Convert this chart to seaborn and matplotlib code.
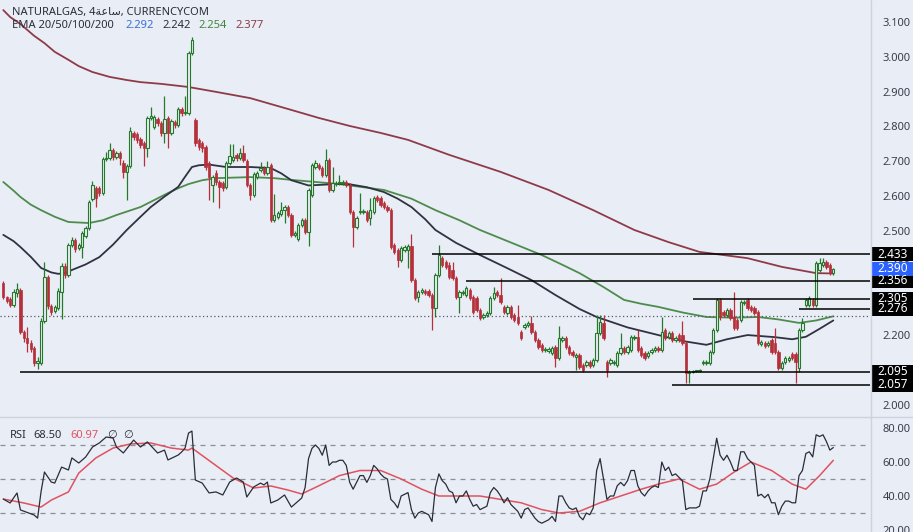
import numpy as np
import pandas as pd
import seaborn as sns
import matplotlib
matplotlib.use("Agg")
import matplotlib.pyplot as plt
import matplotlib.transforms as mtransforms
from matplotlib.patches import Rectangle
from matplotlib.lines import Line2D

BG = "#e9edf6"
UP = "#25792a"
DOWN = "#b5303a"

# 4h candles, NATURALGAS
opens = [
    2.350, 2.310, 2.304, 2.286, 2.321, 2.330, 2.209, 2.192, 2.177, 2.163,
    2.120, 2.120, 2.241, 2.367, 2.284, 2.269, 2.278, 2.324, 2.398, 2.373,
    2.459, 2.473, 2.450, 2.453, 2.485, 2.508, 2.591, 2.623, 2.623, 2.608,
    2.706, 2.709, 2.732, 2.712, 2.723, 2.695, 2.669, 2.686, 2.781, 2.778,
    2.764, 2.752, 2.738, 2.824, 2.798, 2.821, 2.809, 2.781, 2.824, 2.781,
    2.812, 2.804, 2.849, 2.838, 2.838, 3.011, 2.818, 2.761, 2.752, 2.741,
    2.695, 2.631, 2.666, 2.640, 2.637, 2.626, 2.695, 2.703, 2.718, 2.709,
    2.723, 2.700, 2.631, 2.603, 2.654, 2.674, 2.680, 2.666, 2.689, 2.531,
    2.539, 2.548, 2.559, 2.567, 2.545, 2.488, 2.476, 2.516, 2.531, 2.496,
    2.603, 2.683, 2.689, 2.680, 2.660, 2.703, 2.617, 2.634, 2.637, 2.637,
    2.640, 2.631, 2.553, 2.511, 2.553, 2.553, 2.553, 2.536, 2.553, 2.597,
    2.594, 2.579, 2.567, 2.559, 2.459, 2.444, 2.416, 2.444, 2.444, 2.456,
    2.358, 2.310, 2.324, 2.327, 2.327, 2.315, 2.278, 2.373, 2.421, 2.410,
    2.401, 2.387, 2.364, 2.310, 2.321, 2.315, 2.330, 2.310, 2.307, 2.272,
    2.252, 2.258, 2.263, 2.307, 2.324, 2.315, 2.281, 2.263, 2.281, 2.258,
    2.252, 2.209, 2.223, 2.229, 2.235, 2.209, 2.186, 2.172, 2.157, 2.154,
    2.149, 2.166, 2.134, 2.186, 2.192, 2.166, 2.151, 2.137, 2.143, 2.114,
    2.114, 2.123, 2.114, 2.128, 2.206, 2.235, 2.123, 2.120, 2.120, 2.114,
    2.149, 2.163, 2.151, 2.157, 2.192, 2.194, 2.163, 2.149, 2.140, 2.151,
    2.157, 2.163, 2.157, 2.215, 2.194, 2.206, 2.186, 2.200, 2.200, 2.177,
    2.091, 2.094, 2.097, 2.097, 2.120, 2.120, 2.120, 2.151, 2.215, 2.301,
    2.266, 2.258, 2.272, 2.252, 2.243, 2.243, 2.292, 2.301, 2.281, 2.278,
    2.266, 2.174, 2.177, 2.172, 2.186, 2.177, 2.151, 2.105, 2.123, 2.128,
    2.146, 2.146, 2.105, 2.215, 2.286, 2.286, 2.301, 2.286, 2.387, 2.401,
    2.410, 2.401, 2.378,
]
highs = [
    2.355, 2.313, 2.310, 2.333, 2.350, 2.336, 2.215, 2.223, 2.186, 2.169,
    2.137, 2.249, 2.410, 2.373, 2.289, 2.286, 2.336, 2.407, 2.407, 2.465,
    2.482, 2.479, 2.465, 2.499, 2.513, 2.588, 2.643, 2.629, 2.629, 2.712,
    2.726, 2.752, 2.738, 2.729, 2.729, 2.703, 2.692, 2.798, 2.787, 2.784,
    2.769, 2.758, 2.830, 2.855, 2.832, 2.827, 2.815, 2.887, 2.830, 2.821,
    2.818, 2.855, 2.855, 2.887, 3.016, 3.057, 2.824, 2.766, 2.758, 2.746,
    2.700, 2.660, 2.674, 2.646, 2.643, 2.700, 2.749, 2.749, 2.723, 2.738,
    2.746, 2.706, 2.637, 2.669, 2.672, 2.697, 2.686, 2.700, 2.695, 2.606,
    2.556, 2.582, 2.573, 2.573, 2.551, 2.499, 2.522, 2.536, 2.536, 2.623,
    2.695, 2.703, 2.695, 2.686, 2.735, 2.709, 2.683, 2.643, 2.660, 2.646,
    2.646, 2.637, 2.559, 2.542, 2.608, 2.562, 2.559, 2.594, 2.600, 2.603,
    2.600, 2.585, 2.573, 2.564, 2.465, 2.450, 2.456, 2.459, 2.462, 2.491,
    2.364, 2.330, 2.336, 2.333, 2.333, 2.321, 2.378, 2.459, 2.427, 2.416,
    2.410, 2.410, 2.370, 2.330, 2.330, 2.341, 2.336, 2.315, 2.313, 2.278,
    2.263, 2.269, 2.313, 2.338, 2.330, 2.364, 2.286, 2.286, 2.286, 2.263,
    2.286, 2.215, 2.235, 2.241, 2.255, 2.215, 2.192, 2.177, 2.166, 2.166,
    2.169, 2.172, 2.226, 2.197, 2.197, 2.172, 2.157, 2.149, 2.149, 2.120,
    2.128, 2.128, 2.134, 2.258, 2.258, 2.258, 2.128, 2.134, 2.128, 2.154,
    2.206, 2.169, 2.172, 2.200, 2.200, 2.215, 2.169, 2.154, 2.154, 2.163,
    2.169, 2.169, 2.252, 2.220, 2.212, 2.212, 2.197, 2.206, 2.241, 2.183,
    2.100, 2.100, 2.100, 2.103, 2.128, 2.128, 2.157, 2.220, 2.307, 2.307,
    2.272, 2.278, 2.278, 2.324, 2.249, 2.301, 2.301, 2.307, 2.286, 2.284,
    2.272, 2.186, 2.183, 2.183, 2.192, 2.220, 2.157, 2.126, 2.140, 2.140,
    2.151, 2.151, 2.220, 2.249, 2.307, 2.313, 2.307, 2.413, 2.421, 2.421,
    2.416, 2.407, 2.393,
]
lows = [
    2.304, 2.292, 2.281, 2.281, 2.310, 2.203, 2.180, 2.151, 2.151, 2.111,
    2.103, 2.114, 2.235, 2.275, 2.258, 2.263, 2.272, 2.246, 2.364, 2.367,
    2.453, 2.439, 2.444, 2.421, 2.479, 2.502, 2.585, 2.567, 2.600, 2.603,
    2.700, 2.703, 2.703, 2.706, 2.689, 2.651, 2.588, 2.680, 2.761, 2.752,
    2.738, 2.686, 2.712, 2.818, 2.792, 2.801, 2.772, 2.752, 2.738, 2.775,
    2.795, 2.798, 2.830, 2.832, 2.832, 3.005, 2.744, 2.732, 2.726, 2.674,
    2.588, 2.582, 2.631, 2.564, 2.614, 2.620, 2.689, 2.697, 2.700, 2.703,
    2.697, 2.626, 2.588, 2.597, 2.649, 2.669, 2.660, 2.660, 2.525, 2.525,
    2.533, 2.542, 2.522, 2.539, 2.482, 2.482, 2.470, 2.511, 2.491, 2.456,
    2.597, 2.677, 2.674, 2.654, 2.654, 2.611, 2.611, 2.629, 2.631, 2.631,
    2.626, 2.548, 2.453, 2.505, 2.548, 2.548, 2.525, 2.516, 2.548, 2.582,
    2.567, 2.562, 2.553, 2.447, 2.433, 2.395, 2.410, 2.439, 2.393, 2.352,
    2.301, 2.295, 2.318, 2.315, 2.310, 2.215, 2.252, 2.367, 2.395, 2.390,
    2.361, 2.358, 2.304, 2.263, 2.315, 2.310, 2.301, 2.260, 2.266, 2.243,
    2.246, 2.252, 2.258, 2.301, 2.310, 2.289, 2.260, 2.258, 2.246, 2.238,
    2.229, 2.186, 2.218, 2.223, 2.203, 2.180, 2.160, 2.151, 2.151, 2.149,
    2.143, 2.108, 2.128, 2.180, 2.160, 2.143, 2.137, 2.100, 2.103, 2.094,
    2.108, 2.105, 2.108, 2.123, 2.200, 2.186, 2.080, 2.114, 2.114, 2.108,
    2.143, 2.146, 2.146, 2.151, 2.186, 2.151, 2.137, 2.128, 2.134, 2.146,
    2.151, 2.151, 2.151, 2.186, 2.189, 2.180, 2.180, 2.180, 2.172, 2.063,
    2.063, 2.091, 2.094, 2.094, 2.114, 2.114, 2.114, 2.146, 2.209, 2.243,
    2.252, 2.252, 2.243, 2.215, 2.215, 2.238, 2.286, 2.272, 2.266, 2.258,
    2.172, 2.169, 2.163, 2.166, 2.146, 2.146, 2.100, 2.100, 2.117, 2.123,
    2.128, 2.063, 2.094, 2.209, 2.281, 2.281, 2.281, 2.281, 2.381, 2.395,
    2.390, 2.373, 2.373,
]
closes = [
    2.310, 2.298, 2.286, 2.324, 2.333, 2.209, 2.192, 2.177, 2.160, 2.120,
    2.126, 2.241, 2.367, 2.284, 2.266, 2.281, 2.327, 2.398, 2.373, 2.459,
    2.473, 2.447, 2.459, 2.493, 2.508, 2.582, 2.631, 2.594, 2.608, 2.706,
    2.709, 2.732, 2.712, 2.723, 2.709, 2.669, 2.686, 2.787, 2.769, 2.761,
    2.746, 2.738, 2.824, 2.830, 2.827, 2.809, 2.781, 2.821, 2.781, 2.815,
    2.804, 2.849, 2.838, 2.841, 3.011, 3.048, 2.752, 2.741, 2.738, 2.683,
    2.654, 2.654, 2.640, 2.626, 2.623, 2.695, 2.715, 2.712, 2.709, 2.723,
    2.703, 2.631, 2.603, 2.663, 2.666, 2.680, 2.666, 2.683, 2.531, 2.545,
    2.551, 2.559, 2.567, 2.545, 2.488, 2.493, 2.516, 2.531, 2.496, 2.617,
    2.689, 2.695, 2.680, 2.660, 2.703, 2.617, 2.637, 2.637, 2.640, 2.640,
    2.631, 2.553, 2.511, 2.536, 2.556, 2.556, 2.531, 2.559, 2.594, 2.588,
    2.573, 2.567, 2.559, 2.453, 2.439, 2.416, 2.450, 2.453, 2.456, 2.358,
    2.307, 2.324, 2.330, 2.321, 2.315, 2.278, 2.373, 2.430, 2.401, 2.395,
    2.367, 2.364, 2.310, 2.324, 2.324, 2.336, 2.307, 2.266, 2.272, 2.249,
    2.258, 2.263, 2.307, 2.321, 2.315, 2.295, 2.266, 2.281, 2.252, 2.243,
    2.235, 2.192, 2.229, 2.235, 2.209, 2.186, 2.166, 2.157, 2.160, 2.160,
    2.163, 2.134, 2.192, 2.192, 2.166, 2.149, 2.143, 2.143, 2.108, 2.100,
    2.123, 2.111, 2.128, 2.206, 2.238, 2.192, 2.100, 2.128, 2.123, 2.149,
    2.163, 2.151, 2.166, 2.194, 2.194, 2.157, 2.143, 2.134, 2.149, 2.157,
    2.163, 2.157, 2.209, 2.192, 2.206, 2.186, 2.192, 2.186, 2.177, 2.091,
    2.094, 2.097, 2.097, 2.100, 2.123, 2.123, 2.151, 2.215, 2.301, 2.252,
    2.258, 2.272, 2.249, 2.220, 2.220, 2.295, 2.295, 2.278, 2.272, 2.263,
    2.177, 2.180, 2.169, 2.177, 2.151, 2.151, 2.105, 2.120, 2.134, 2.134,
    2.134, 2.123, 2.215, 2.235, 2.301, 2.307, 2.286, 2.407, 2.407, 2.410,
    2.395, 2.378, 2.390,
]

# EMA readings (candle index, value)
ema50_idx = [0, 3, 5, 8, 11, 14, 16, 18, 20, 24, 28, 32, 36, 40, 43, 47, 51, 53, 55,
             57, 60, 65, 72, 78, 81, 84, 89, 95, 100, 106, 111, 115, 119, 123, 126,
             132, 139, 147, 154, 161, 168, 173, 182, 191, 198, 205, 211, 217, 225,
             230, 234, 238, 242]
ema50_val = [2.488, 2.470, 2.453, 2.425, 2.393, 2.380, 2.376, 2.378, 2.387, 2.403,
             2.424, 2.460, 2.502, 2.540, 2.568, 2.598, 2.626, 2.655, 2.683, 2.688,
             2.690, 2.683, 2.683, 2.680, 2.665, 2.645, 2.630, 2.633, 2.635, 2.625,
             2.611, 2.592, 2.568, 2.533, 2.502, 2.465, 2.430, 2.392, 2.358, 2.315,
             2.275, 2.252, 2.222, 2.200, 2.183, 2.172, 2.188, 2.200, 2.194, 2.188,
             2.195, 2.218, 2.242]
ema100_idx = [0, 3, 5, 8, 11, 15, 19, 25, 29, 33, 40, 44, 48, 51, 54, 58, 62, 72,
              79, 84, 98, 111, 119, 126, 133, 139, 148, 157, 163, 168, 175, 181, 186,
              191, 198, 205, 213, 220, 226, 232, 237, 242]
ema100_val = [2.640, 2.615, 2.597, 2.575, 2.559, 2.540, 2.525, 2.522, 2.530, 2.545,
              2.568, 2.588, 2.608, 2.622, 2.634, 2.645, 2.651, 2.654, 2.651, 2.646,
              2.634, 2.617, 2.592, 2.559, 2.530, 2.502, 2.466, 2.430, 2.402, 2.378,
              2.338, 2.301, 2.290, 2.281, 2.265, 2.252, 2.250, 2.252, 2.245, 2.235,
              2.242, 2.254]
ema200_idx = [0, 2, 5, 7, 9, 12, 15, 19, 22, 26, 31, 36, 40, 46, 54, 62, 72, 84, 92,
              101, 110, 118, 130, 145, 159, 172, 184, 194, 203, 210, 217, 227, 237, 242]
ema200_val = [3.134, 3.114, 3.094, 3.077, 3.060, 3.039, 3.014, 2.991, 2.973, 2.956,
              2.942, 2.933, 2.927, 2.922, 2.913, 2.899, 2.881, 2.847, 2.824, 2.801,
              2.781, 2.761, 2.718, 2.669, 2.617, 2.559, 2.502, 2.467, 2.439, 2.430,
              2.421, 2.396, 2.378, 2.377]

# RSI readings (candle index, value)
rsi_idx = [0, 2, 4, 5, 9, 10, 11, 12, 14, 15, 17, 19, 20, 22, 24, 26, 28, 30, 32, 33,
           35, 38, 40, 42, 45, 47, 48, 51, 52, 53, 54, 55, 56, 58, 60, 62, 64, 66, 68,
           70, 71, 73, 75, 76, 77, 78, 80, 82, 84, 87] + list(range(88, 243))
rsi_val = [38.2, 35.9, 41.8, 31.8, 28.8, 27.0, 42.4, 54.1, 48.2, 47.6, 57.0, 55.3,
           62.4, 59.4, 62.9, 68.8, 71.2, 74.7, 74.1, 68.8, 65.3, 72.9, 68.8, 71.8,
           65.3, 67.0, 61.2, 64.1, 65.9, 68.2, 77.0, 78.2, 49.4, 47.6, 41.8, 42.4,
           40.6, 48.2, 50.6, 48.2, 39.4, 45.3, 47.6, 46.5, 48.2, 35.9, 37.6, 40.6,
           33.5, 38.8,
           45, 62, 68, 70, 68, 64, 70, 58, 60, 60, 61, 61, 58, 48, 44, 48, 52, 52, 48, 52,
           58, 56, 53, 51, 50, 38, 36, 33, 40, 41, 42, 32, 27, 30, 31, 30, 29, 25, 45, 53,
           49, 47, 43, 42, 36, 40, 40, 43, 38, 34, 35, 32, 33, 34, 42, 45, 43, 40, 36, 39,
           35, 33, 31, 27, 32, 33, 30, 27, 25, 24, 25, 26, 28, 25, 40, 40, 36, 33, 32, 33,
           28, 26, 30, 29, 33, 55, 62, 50, 38, 40, 40, 46, 48, 46, 49, 55, 55, 46, 42, 40,
           43, 45, 46, 45, 60, 55, 57, 52, 53, 51, 49, 32, 33, 33, 33, 34, 43, 43, 50, 62,
           74, 64, 61, 64, 60, 55, 55, 66, 66, 62, 60, 58, 40, 41, 39, 41, 36, 36, 29, 34,
           37, 37, 36, 36, 52, 55, 65, 66, 63, 76, 75, 76, 72, 67, 68.5]
rsi_ma_idx = [0, 6, 11, 14, 19, 22, 27, 32, 37, 43, 49, 54, 55, 61, 67, 73, 78, 83,
              87, 92, 98, 104, 110, 116, 122, 127, 133, 139, 145, 151, 157, 162, 168,
              174, 180, 186, 191, 197, 203, 208, 213, 218, 224, 230, 234, 238, 242]
rsi_ma_val = [38.2, 35.9, 33.5, 37.6, 42.4, 53.5, 62.4, 68.2, 70.6, 71.2, 68.2, 67.0,
              68.2, 59.4, 50.6, 44.7, 45.9, 43.5, 41.2, 46, 52, 55, 55, 50, 44, 40, 40,
              40, 38, 36, 32, 30, 31, 36, 40, 44, 47, 50, 44, 47, 54, 60, 55, 47, 44, 52,
              60.97]

levels = [2.433, 2.356, 2.305, 2.276, 2.095, 2.057]
level_start = [125, 135, 201, 232, 5, 195]
last_price = 2.390
dotted_level = 2.254

W, H = 913, 532
sns.set_theme(style="white")
plt.rcParams["font.family"] = ["Noto Sans", "DejaVu Sans"]

fig = plt.figure(figsize=(W / 100, H / 100), dpi=100, facecolor=BG)
ax = fig.add_axes([0, 1 - 416 / H, 870 / W, 416 / H], facecolor=BG)
ax_rsi = fig.add_axes([0, 0, 870 / W, 114 / H], facecolor=BG)

df = pd.DataFrame({"o": opens, "h": highs, "l": lows, "c": closes})
df["i"] = np.arange(len(df))
up = df["c"] >= df["o"]
bottom = df[["o", "c"]].min(axis=1)
body = (df["c"] - df["o"]).abs().clip(lower=0.0012)

ax.vlines(df["i"], df["l"], df["h"], colors=np.where(up, UP, DOWN), linewidth=0.9, zorder=2)
ax.bar(df.loc[up, "i"], body[up], bottom=bottom[up], width=0.68,
       facecolor=BG, edgecolor=UP, linewidth=0.8, zorder=3)
ax.bar(df.loc[~up, "i"], body[~up], bottom=bottom[~up], width=0.68,
       facecolor=DOWN, edgecolor=DOWN, linewidth=0.5, zorder=3)

sns.lineplot(x=ema200_idx, y=ema200_val, ax=ax, color="#8e3a48", linewidth=1.3, zorder=1)
sns.lineplot(x=ema100_idx, y=ema100_val, ax=ax, color="#4d8c4c", linewidth=1.3, zorder=1)
sns.lineplot(x=ema50_idx, y=ema50_val, ax=ax, color="#2f3240", linewidth=1.3, zorder=1)

xmax = 252.7
for lv, s in zip(levels, level_start):
    ax.hlines(lv, s, xmax, color="black", linewidth=1.1, zorder=4)
ax.axhline(dotted_level, color="#555a66", linestyle=(0, (1, 2)), linewidth=0.9, zorder=1)

ax.set_xlim(-0.96, xmax)
ax.set_ylim(3.163 - 416 * 0.002874, 3.163)
ax.set_xticks([])
ax.yaxis.tick_right()
ax.set_yticks(np.round(np.arange(2.0, 3.101, 0.1), 3))
ax.set_yticklabels([f"{v:.3f}" for v in np.arange(2.0, 3.101, 0.1)])
ax.tick_params(axis="y", length=0, pad=9, labelsize=8, labelcolor="#3a3e4a")
ax.set_xlabel("")
ax.set_ylabel("")
for sp in ax.spines.values():
    sp.set_visible(False)

# price boxes on the scale
trans = mtransforms.blended_transform_factory(ax.transAxes, ax.transData)
box_h = 14 * 0.002874
for lv, col in [(2.433, "black"), (2.356, "black"), (last_price, "#2962ff"),
                (2.305, "black"), (2.276, "black"), (2.095, "black"), (2.057, "black")]:
    ax.add_patch(Rectangle((1.001, lv - box_h / 2), 43 / 870, box_h, transform=trans,
                           facecolor=col, edgecolor="none", clip_on=False, zorder=10))
    ax.text(1.001 + 21.5 / 870, lv, f"{lv:.3f}", transform=trans, ha="center", va="center",
            color="white", fontsize=8.5, fontweight="bold", clip_on=False, zorder=11)

# RSI panel
for lv in [70, 50, 30]:
    ax_rsi.axhline(lv, color="#8a8e99", linestyle=(0, (4, 4)), linewidth=0.9, zorder=1)
sns.lineplot(x=rsi_ma_idx, y=rsi_ma_val, ax=ax_rsi, color="#e0525f", linewidth=1.1, zorder=2)
sns.lineplot(x=rsi_idx, y=rsi_val, ax=ax_rsi, color="#2a2d38", linewidth=0.9, zorder=3)
ax_rsi.set_xlim(-0.96, xmax)
ax_rsi.set_ylim(80 - (532 - 428) / 1.7, 80 + (428 - 418) / 1.7)
ax_rsi.set_xticks([])
ax_rsi.yaxis.tick_right()
ax_rsi.set_yticks([20, 40, 60, 80])
ax_rsi.set_yticklabels(["20.00", "40.00", "60.00", "80.00"])
ax_rsi.tick_params(axis="y", length=0, pad=9, labelsize=8, labelcolor="#3a3e4a")
ax_rsi.set_xlabel("")
ax_rsi.set_ylabel("")
for sp in ax_rsi.spines.values():
    sp.set_visible(False)

# separators
fig.add_artist(Line2D([870.5 / W, 870.5 / W], [0, 1], color="#cdd2dc", linewidth=1))
fig.add_artist(Line2D([0, 1], [1 - 417 / H, 1 - 417 / H], color="#cdd2dc", linewidth=1))

# header texts
arabic_hour = "\ufe94\ufecb\ufe8e\ufeb3"
fig.text(12 / W, 1 - 12 / H, "NATURALGAS, 4" + arabic_hour + ", CURRENCYCOM",
         fontsize=8, color="#2a2e39", va="center")
for x, txt, col in [(12, "EMA 20/50/100/200", "#2a2e39"), (125, "2.292", "#3b6fd8"),
                    (162, "2.242", "#2a2e39"), (198, "2.254", "#43853f"),
                    (235, "2.377", "#8e3a48")]:
    fig.text(x / W, 1 - 26 / H, txt, fontsize=8, color=col, va="center")
for x, txt, col in [(10, "RSI", "#2a2e39"), (33, "68.50", "#2a2e39"), (70, "60.97", "#e0525f"),
                    (107, "\u2205", "#2a2e39"), (123, "\u2205", "#2a2e39")]:
    fig.text(x / W, 1 - 435 / H, txt, fontsize=8, color=col, va="center")

fig.savefig("out.png", dpi=100, facecolor=BG)
